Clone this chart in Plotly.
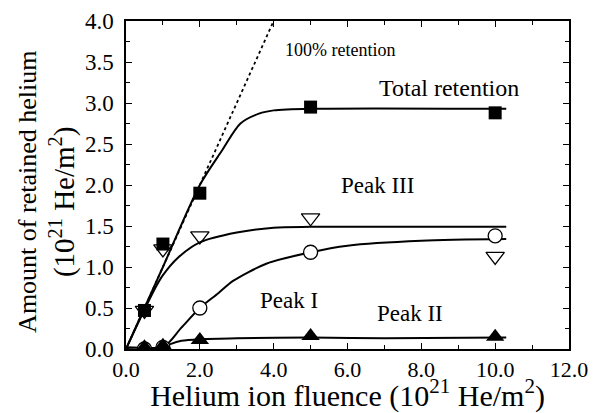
import plotly.graph_objects as go

# Measured data points
fluence = [0.5, 1.0, 2.0, 5.0, 10.0]
total = [0.47, 1.28, 1.90, 2.95, 2.88]
peak3 = [0.47, 1.22, 1.38, 1.60, 1.13]
peak1 = [0.00, 0.02, 0.50, 1.18, 1.38]
peak2 = [0.02, 0.04, 0.11, 0.16, 0.15]

# Fitted curves
total_fit_x = [0.0, 0.5, 1.0, 2.0, 2.6, 3.1, 3.6, 4.0, 5.0, 10.3]
total_fit_y = [0.0, 0.5, 1.0, 2.0, 2.42, 2.75, 2.87, 2.91, 2.93, 2.93]
peak3_fit_x = [0.0, 0.5, 0.8, 1.0, 1.4, 2.0, 3.0, 4.0, 5.0, 10.3]
peak3_fit_y = [0.0, 0.48, 0.75, 0.9, 1.11, 1.3, 1.42, 1.48, 1.49, 1.49]
peak1_fit_x = [0.0, 1.0, 1.5, 2.0, 2.5, 2.9, 3.8, 5.0, 6.0, 8.0, 10.3]
peak1_fit_y = [0.0, 0.02, 0.26, 0.5, 0.68, 0.83, 1.04, 1.18, 1.26, 1.32, 1.34]
peak2_fit_x = [0.0, 1.0, 1.2, 1.5, 2.0, 3.0, 5.0, 7.0, 10.3]
peak2_fit_y = [0.02, 0.02, 0.06, 0.10, 0.12, 0.13, 0.14, 0.13, 0.14]
ideal_x = [0.0, 4.0]
ideal_y = [0.0, 4.0]

x_ticks = [0, 2, 4, 6, 8, 10, 12]
y_ticks = [0, 0.5, 1.0, 1.5, 2.0, 2.5, 3.0, 3.5, 4.0]

FONT = "Liberation Serif"
fig = go.Figure()

fig.add_trace(go.Scatter(x=ideal_x, y=ideal_y, mode="lines",
                         line=dict(color="black", width=1.8, dash="dot"), showlegend=False))
for fx, fy in [(total_fit_x, total_fit_y), (peak3_fit_x, peak3_fit_y),
               (peak1_fit_x, peak1_fit_y), (peak2_fit_x, peak2_fit_y)]:
    fig.add_trace(go.Scatter(x=fx, y=fy, mode="lines", line=dict(color="black", width=2, shape="spline", smoothing=0.8),
                             showlegend=False))

fig.add_trace(go.Scatter(x=fluence, y=total, mode="markers",
                         marker=dict(symbol="square", size=13, color="black"), showlegend=False))
fig.add_trace(go.Scatter(x=fluence, y=peak3, mode="markers",
                         marker=dict(symbol="triangle-down-open", size=16, color="black", line=dict(width=1.3)), showlegend=False))
fig.add_trace(go.Scatter(x=fluence, y=peak1, mode="markers",
                         marker=dict(symbol="circle", size=14, color="white", line=dict(color="black", width=1.3)), showlegend=False))
fig.add_trace(go.Scatter(x=fluence, y=peak2, mode="markers",
                         marker=dict(symbol="triangle-up", size=16, color="black"), showlegend=False))

annots = [
    (4.25, 3.65, "100% retention", 18, "left"),
    (6.8, 3.18, "Total retention", 24, "left"),
    (6.8, 1.99, "Peak III", 23, "center"),
    (4.42, 0.59, "Peak I", 23, "center"),
    (7.7, 0.43, "Peak II", 23, "center"),
]
for x, y, t, s, a in annots:
    fig.add_annotation(x=x, y=y, text=t, showarrow=False, xanchor=a, yanchor="middle",
                       font=dict(family=FONT, size=s, color="black"))

# y-axis title, two lines placed separately
fig.add_annotation(xref="paper", yref="paper", x=0, y=0.479, xshift=-98, textangle=-90,
                   text="Amount of retained helium", showarrow=False,
                   xanchor="center", yanchor="middle", font=dict(family=FONT, size=26, color="black"))
fig.add_annotation(xref="paper", yref="paper", x=0, y=0.448, xshift=-64, textangle=-90,
                   text="(10<sup>21</sup> He/m<sup>2</sup>)", showarrow=False,
                   xanchor="center", yanchor="middle", font=dict(family=FONT, size=29, color="black"))

axis_common = dict(showline=True, linecolor="black", linewidth=1.5, mirror="ticks",
                   ticks="inside", ticklen=6, tickwidth=1.2, tickcolor="black",
                   showgrid=False, zeroline=False, automargin=False)

fig.update_xaxes(range=[0, 12], tickvals=x_ticks, ticktext=[f"{v:.1f}" for v in x_ticks],
                 minor=dict(dtick=1, ticks="inside", ticklen=4, tickcolor="black"),
                 ticklabelstandoff=0, tickfont=dict(family=FONT, size=22, color="black"),
                 title=dict(text="Helium ion fluence (10<sup>21</sup> He/m<sup>2</sup>)",
                            font=dict(family=FONT, size=30, color="black"), standoff=7),
                 **axis_common)
fig.update_yaxes(range=[0, 4], tickvals=y_ticks, ticktext=[f"{v:.1f}" for v in y_ticks],
                 minor=dict(dtick=0.25, ticks="inside", ticklen=4, tickcolor="black"),
                 ticklabelstandoff=6, tickfont=dict(family=FONT, size=23, color="black"),
                 **axis_common)

# page body adds an 8px offset at left/top, so the figure is 8px smaller than the window
fig.update_layout(width=596, height=405, plot_bgcolor="white", paper_bgcolor="white",
                  margin=dict(l=118, r=35, t=13, b=64))
fig.write_html("out.html")
